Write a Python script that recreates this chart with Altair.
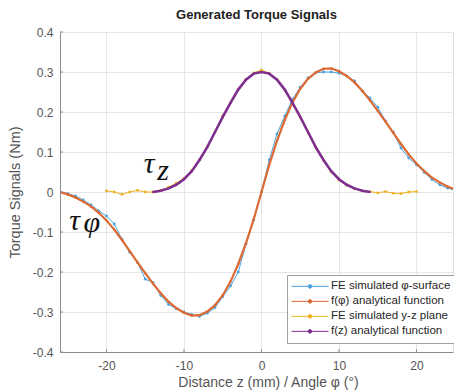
import altair as alt
import pandas as pd

# ---------------- data ----------------
x_phi = list(range(-26, 27))
f_phi = [0.000, -0.006, -0.014, -0.024, -0.036, -0.052, -0.071, -0.094, -0.120, -0.148,
         -0.176, -0.203, -0.229, -0.253, -0.274, -0.290, -0.302, -0.309, -0.308, -0.299,
         -0.283, -0.258, -0.224, -0.180, -0.128, -0.068, 0.000,
         0.068, 0.128, 0.180, 0.224, 0.258, 0.283, 0.299, 0.308, 0.309, 0.302,
         0.290, 0.274, 0.253, 0.229, 0.203, 0.176, 0.148, 0.120, 0.094, 0.071,
         0.052, 0.036, 0.024, 0.014, 0.006, 0.000]
fe_phi = [0.000, -0.004, -0.010, -0.020, -0.032, -0.047, -0.060, -0.080, -0.118, -0.151,
          -0.176, -0.218, -0.226, -0.259, -0.281, -0.292, -0.300, -0.306, -0.311, -0.303,
          -0.289, -0.262, -0.235, -0.200, -0.130, -0.070, 0.000,
          0.080, 0.145, 0.190, 0.232, 0.262, 0.285, 0.298, 0.300, 0.300, 0.297,
          0.290, 0.278, 0.252, 0.235, 0.212, 0.178, 0.150, 0.110, 0.085, 0.068,
          0.049, 0.031, 0.018, 0.010, 0.004, 0.000]
x_yz = list(range(-20, 21))
fe_yz = [0.003, 0.000, -0.006, 0.000, 0.004, 0.000, 0.000, 0.004, 0.012, 0.022,
         0.034, 0.054, 0.080, 0.113, 0.150, 0.190, 0.224, 0.257, 0.282, 0.298,
         0.305, 0.297, 0.281, 0.255, 0.222, 0.187, 0.148, 0.110, 0.079, 0.050,
         0.030, 0.017, 0.008, 0.003, 0.001, -0.002, 0.001, -0.003, -0.004, 0.000,
         0.001]
x_z = list(range(-14, 15))
f_z = [0.000, 0.003, 0.009, 0.018, 0.032, 0.052, 0.080, 0.112, 0.150, 0.188,
       0.223, 0.256, 0.281, 0.296, 0.300, 0.296, 0.281, 0.256, 0.223, 0.188,
       0.150, 0.112, 0.080, 0.052, 0.032, 0.018, 0.009, 0.003, 0.000]

x_ticks = [-20, -10, 0, 10, 20]
y_ticks = [-0.4, -0.3, -0.2, -0.1, 0, 0.1, 0.2, 0.3, 0.4]

series_names = ["FE simulated φ-surface", "f(φ) analytical function",
                "FE simulated y-z plane", "f(z) analytical function"]
colors = ["#4aa2de", "#dc6a35", "#edb120", "#7e2f8e"]

frames = [
    pd.DataFrame({"x": x_phi, "y": fe_phi, "series": series_names[0]}),
    pd.DataFrame({"x": x_phi, "y": f_phi, "series": series_names[1]}),
    pd.DataFrame({"x": x_yz, "y": fe_yz, "series": series_names[2]}),
    pd.DataFrame({"x": x_z, "y": f_z, "series": series_names[3]}),
]

FONT = "Liberation Sans"
XDOM = [-26, 24.71]
YDOM = [-0.4, 0.4]

xscale = alt.Scale(domain=XDOM, nice=False, zero=False)
yscale = alt.Scale(domain=YDOM, nice=False, zero=False)

legend = alt.Legend(
    title=None, orient="none", legendX=227, legendY=243,
    symbolType="M-1,0L1,0M-0.1,0A0.1,0.1,0,1,0,0.1,0A0.1,0.1,0,1,0,-0.1,0",
    symbolSize=1369, symbolStrokeWidth=1, clipHeight=14.7, rowPadding=0,
    labelFontSize=11.5, labelFont=FONT, labelColor="#262626", labelOffset=2,
    strokeColor="#a0a0a0", fillColor="white", padding=4, symbolOffset=0,
)
color = alt.Color("series:N", scale=alt.Scale(domain=series_names, range=colors), legend=legend)

xaxis = alt.Axis(values=x_ticks, title="Distance z (mm) / Angle φ (°)", grid=True,
                 gridColor="#e6e6e6", domainColor="#8c8c8c", tickSize=0, labelPadding=8,
                 labelFontSize=12, labelColor="#555555", labelFont=FONT,
                 format="d", labelOverlap=False, tickCount=5,
                 titleFontSize=14, titleColor="#555555", titleFont=FONT,
                 titleFontWeight="normal", titlePadding=4, titleX=208, titleAlign="center")
yaxis = alt.Axis(values=y_ticks, title="Torque Signals (Nm)", grid=True,
                 gridColor="#e6e6e6", domainColor="#8c8c8c", tickSize=0, labelPadding=7,
                 labelFontSize=12, labelColor="#555555", labelFont=FONT,
                 format="~g", labelOverlap=False, tickCount=9, labelSeparation=0,
                 titleFontSize=14.5, titleColor="#555555", titleFont=FONT,
                 titleFontWeight="normal", titlePadding=10)

X = alt.X("x:Q", scale=xscale, axis=xaxis)
Y = alt.Y("y:Q", scale=yscale, axis=yaxis)

widths = [1, 2.2, 1, 2.6]
psizes = [8, 6, 8, 4]

layers = []
for df, w, s in zip(frames, widths, psizes):
    line = alt.Chart(df).mark_line(strokeWidth=w, clip=True).encode(x=X, y=Y, color=color)
    pts = alt.Chart(df).mark_circle(size=s, opacity=1, clip=True).encode(x=X, y=Y, color=color)
    layers += [line, pts]

# inward ticks (MATLAB style)
yt = pd.DataFrame({"y": y_ticks})
xt = pd.DataFrame({"x": x_ticks})
ytick = alt.Chart(yt).mark_rule(color="#8c8c8c", strokeWidth=1).encode(
    y=Y, x=alt.datum(-26), x2=alt.datum(-25.6))
xtick = alt.Chart(xt).mark_rule(color="#8c8c8c", strokeWidth=1).encode(
    x=X, y=alt.datum(-0.4), y2=alt.datum(-0.3925))
layers += [ytick, xtick]

# annotations
def ann(txt, xv, yv):
    return alt.Chart(pd.DataFrame({"t": [txt]})).mark_text(
        font="Liberation Serif", fontStyle="italic", fontSize=30, color="#111111",
        align="center", baseline="alphabetic").encode(
        text="t:N", x=alt.datum(xv), y=alt.datum(yv))

layers += [ann("τ", -14.5, 0.0475), ann("z", -12.7, 0.03),
           ann("τ", -24.1, -0.095), ann("φ", -21.9, -0.1)]

chart = alt.layer(*layers).properties(
    width=393, height=320,
    title=alt.TitleParams("Generated Torque Signals", font=FONT, fontSize=13,
                          fontWeight="bold", color="#222222", offset=4),
    autosize=alt.AutoSizeParams(type="none"),
    padding={"left": 60, "top": 32, "right": 1, "bottom": 39},
).configure_view(stroke=None).configure_axis(labelOverlap=False).configure(
    locale={"number": {"decimal": ".", "thousands": ",", "grouping": [3],
                       "currency": ["", ""], "minus": "-"}}
)

chart.save("out.html", embed_options={"renderer": "svg", "actions": False})
